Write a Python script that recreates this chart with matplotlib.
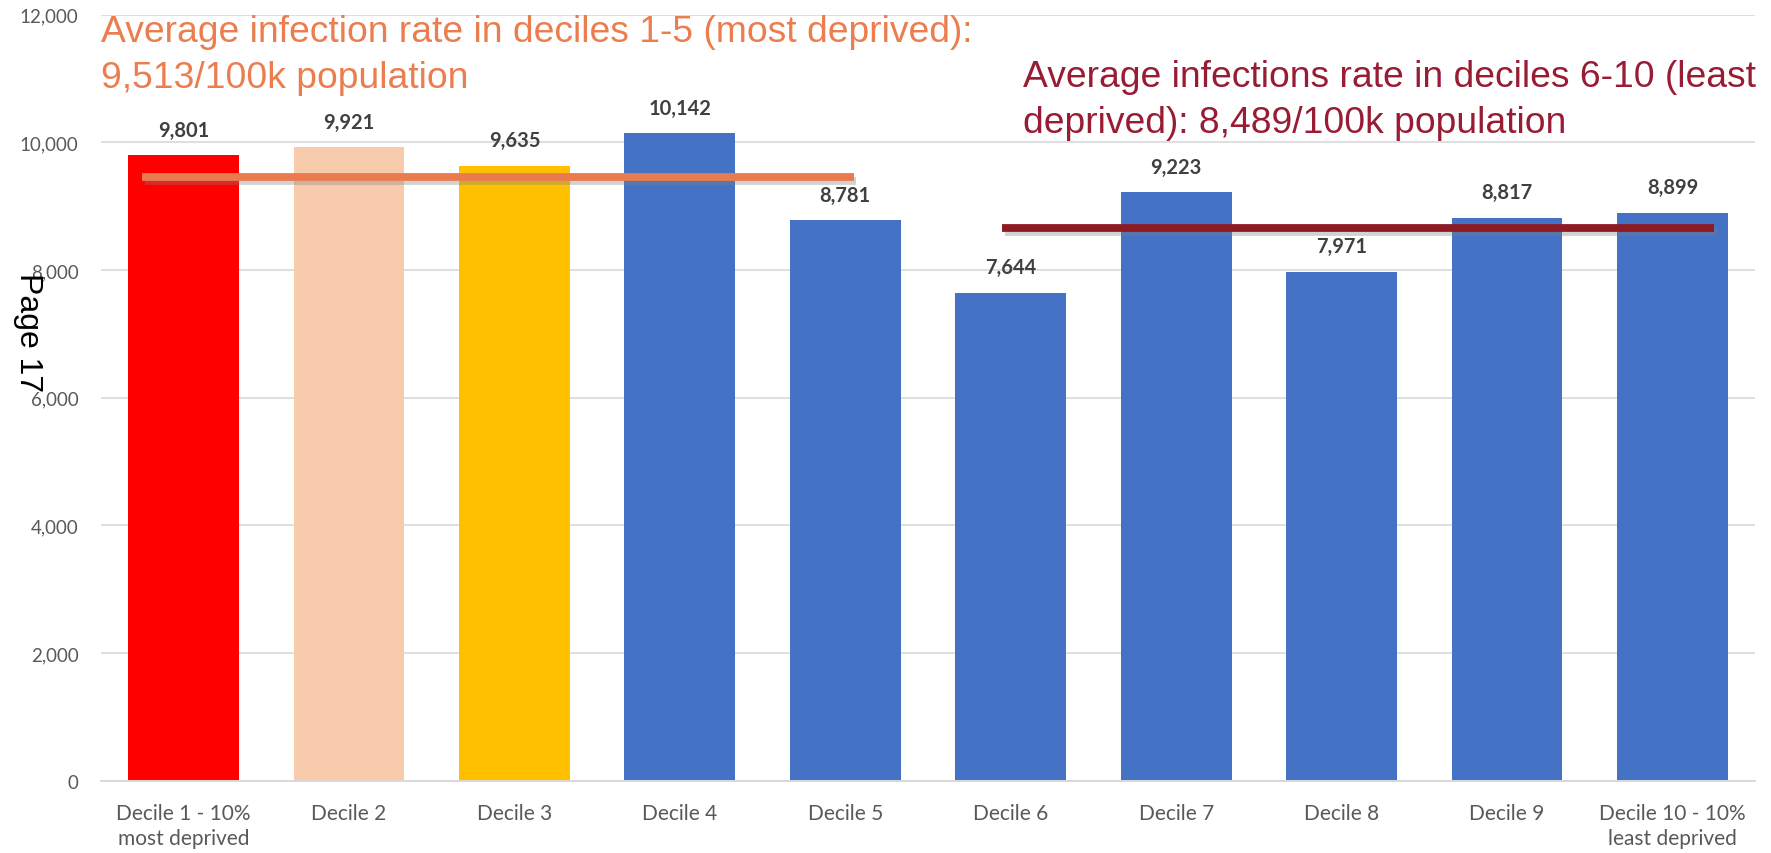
import matplotlib
matplotlib.use("Agg")
import matplotlib.pyplot as plt
import matplotlib.patheffects as pe
from matplotlib.ticker import FuncFormatter, MultipleLocator

# data
categories = ["Decile 1 - 10%\nmost deprived", "Decile 2", "Decile 3", "Decile 4", "Decile 5",
              "Decile 6", "Decile 7", "Decile 8", "Decile 9", "Decile 10 - 10%\nleast deprived"]
rates = [9801, 9921, 9635, 10142, 8781, 7644, 9223, 7971, 8817, 8899]
bar_colors = ["#FF0000", "#F8CBAD", "#FFC000"] + ["#4472C4"] * 7

# average lines (level as drawn, span in category units)
avg_levels = [9462, 8659]
avg_spans = [(-0.25, 4.05), (4.95, 9.25)]
avg_colors = ["#E97B4F", "#8E1A24"]
avg_texts = ["Average infection rate in deciles 1-5 (most deprived):\n9,513/100k population",
             "Average infections rate in deciles 6-10 (least\ndeprived): 8,489/100k population"]
avg_text_colors = ["#EB7D4E", "#981C33"]

fig = plt.figure(figsize=(17.71, 8.54), dpi=100)
ax = fig.add_axes([0.0569, 0.0847, 0.9342, 0.8969])

x = list(range(len(categories)))
bars = ax.bar(x, rates, width=0.67, color=bar_colors, zorder=2)

for xi, v in zip(x, rates):
    ax.annotate(f"{v:,}", (xi, v), xytext=(0, 14), textcoords="offset points",
                ha="center", va="baseline", fontsize=14.5, fontweight="bold",
                family="Lato", color="#404040")

for lvl, (x0, x1), c in zip(avg_levels, avg_spans, avg_colors):
    ax.plot([x0, x1], [lvl, lvl], color=c, lw=5.6, solid_capstyle="butt", zorder=3,
            path_effects=[pe.SimpleLineShadow(offset=(2, -3), shadow_color="gray", alpha=0.35),
                          pe.Normal()])

ax.set_xlim(-0.5, len(categories) - 0.5)
ax.set_ylim(0, 12000)
ax.yaxis.set_major_locator(MultipleLocator(2000))
ax.yaxis.set_major_formatter(FuncFormatter(lambda v, p: f"{int(v):,}"))
ax.grid(axis="y", color="#D9D9D9", lw=1.2, zorder=0)
ax.set_axisbelow(True)
for s in ["top", "right", "left"]:
    ax.spines[s].set_visible(False)
ax.spines["bottom"].set_color("#D9D9D9")
ax.spines["bottom"].set_linewidth(1.4)

ax.set_xticks(x)
ax.set_xticklabels(categories, family="Lato", fontsize=15, color="#595959", linespacing=1.3)
ax.tick_params(axis="x", length=0, pad=16)
ax.tick_params(axis="y", length=0, pad=16, labelsize=13.5, labelcolor="#595959")
for t in ax.get_yticklabels():
    t.set_family("Lato")

# annotations (y is the baseline of the last line)
fig.text(101 / 1771, 1 - 88 / 854, avg_texts[0], color=avg_text_colors[0], fontsize=26.8,
         family="Liberation Sans", ha="left", va="baseline", linespacing=1.42)
fig.text(1023 / 1771, 1 - 133 / 854, avg_texts[1], color=avg_text_colors[1], fontsize=26.8,
         family="Liberation Sans", ha="left", va="baseline", linespacing=1.42)

fig.text(28 / 1771, 1 - 333 / 854, "Page 17", rotation=270, fontsize=23,
         family="Liberation Sans", color="black", ha="center", va="center")

fig.savefig("out.png", dpi=100)
